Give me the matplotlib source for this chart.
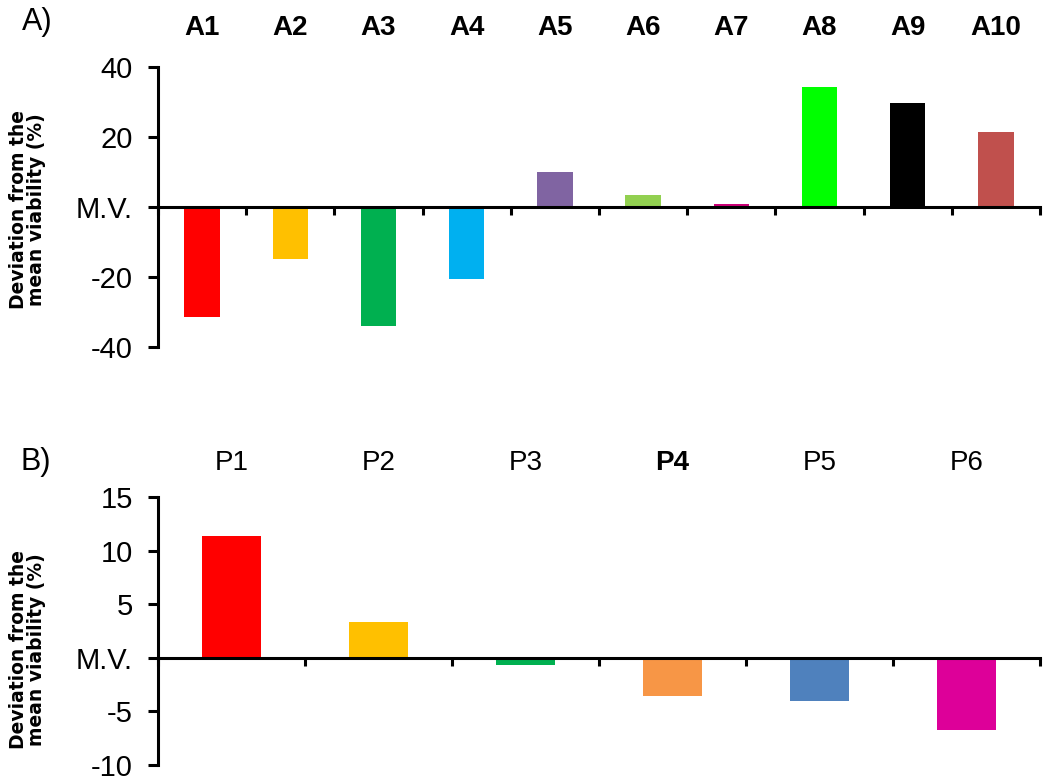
import matplotlib
matplotlib.use("Agg")
import matplotlib.pyplot as plt
import matplotlib.transforms as mtransforms

# ---- data ----
a_labels = ["A1", "A2", "A3", "A4", "A5", "A6", "A7", "A8", "A9", "A10"]
a_values = [-31.4, -14.9, -34.0, -20.6, 10.1, 3.4, 0.9, 34.2, 29.6, 21.3]
a_colors = ["#FF0000", "#FFC000", "#00B050", "#00B0F0", "#8064A2",
            "#92D050", "#CC0077", "#00FF00", "#000000", "#C0504D"]
a_yticks = [-40, -20, 0, 20, 40]
a_yticklabels = ["-40", "-20", "M.V.", "20", "40"]

p_labels = ["P1", "P2", "P3", "P4", "P5", "P6"]
p_values = [11.4, 3.3, -0.7, -3.6, -4.0, -6.7]
p_colors = ["#FF0000", "#FFC000", "#00B050", "#F79646", "#4F81BD", "#DD0099"]
p_yticks = [-10, -5, 0, 5, 10, 15]
p_yticklabels = ["-10", "-5", "M.V.", "5", "10", "15"]

ylabel_text = "Deviation from the\nmean viability (%)"

plt.rcParams['font.family'] = ['Liberation Sans', 'DejaVu Sans']

fig = plt.figure(figsize=(10.5, 7.82), dpi=100)
W, H = 1050, 782

def make_axes(x0, x1, ytop, ybot):
    return fig.add_axes([x0 / W, 1 - ybot / H, (x1 - x0) / W, (ybot - ytop) / H])

ax1 = make_axes(158, 1040, 67, 347)
ax2 = make_axes(158, 1040, 497, 765)

def style(ax, labels, values, colors, yticks, yticklabels, ylim, label_bold, label_off, ylab_y):
    n = len(labels)
    x = list(range(n))
    ax.bar([i + 0.5 for i in x], values, width=0.4, color=colors, zorder=2)
    ax.set_xlim(0, n)
    ax.set_ylim(*ylim)
    for s in ["top", "right"]:
        ax.spines[s].set_visible(False)
    ax.spines["bottom"].set_position(("data", 0))
    ax.spines["bottom"].set_linewidth(2.2)
    ax.spines["left"].set_linewidth(2.2)
    ax.spines["bottom"].set_zorder(3)
    ax.set_xticks(list(range(n + 1)))
    ax.set_xticklabels([])
    ax.tick_params(axis="x", direction="out", length=6, width=2.2)
    ax.set_yticks(yticks)
    ax.set_yticklabels(yticklabels)
    ax.tick_params(axis="y", direction="out", length=7, width=2.2, labelsize=21, pad=11)
    trans = mtransforms.blended_transform_factory(ax.transData, ax.transAxes)
    for i, lab in enumerate(labels):
        bold = label_bold[i]
        ax.text(i + 0.5, label_off, lab, transform=trans, ha="center", va="center",
                fontsize=20,
                fontweight="bold" if bold else "normal")
    ax.text(-0.148, ylab_y, ylabel_text, transform=ax.transAxes, rotation=90,
            ha="center", va="center", multialignment="center",
            fontsize=13.5, fontweight="bold", linespacing=0.95,
            family=['DejaVu Sans'])

style(ax1, a_labels, a_values, a_colors, a_yticks, a_yticklabels, (-40, 40),
      [True] * len(a_labels), 1.141, 0.49)
style(ax2, p_labels, p_values, p_colors, p_yticks, p_yticklabels, (-10, 15),
      [False, False, False, True, False, False], 1.127, 0.43)

fig.text(22 / W, 1 - 22 / H, "A)", fontsize=22, ha="left", va="center")
fig.text(20 / W, 1 - 462 / H, "B)", fontsize=22, ha="left", va="center")

fig.savefig("out.png", dpi=100)
